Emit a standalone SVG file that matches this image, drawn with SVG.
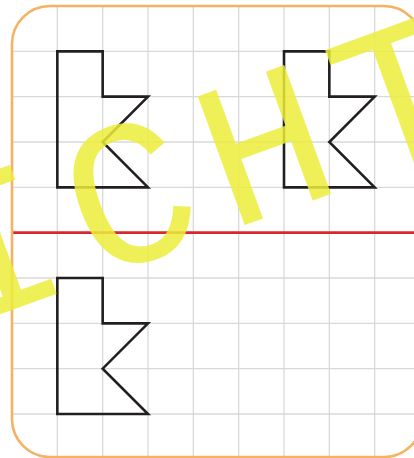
<svg xmlns="http://www.w3.org/2000/svg" width="414" height="458" viewBox="0 0 414 458">
<style>
.grid line{stroke:#d9d9d9;stroke-width:1.3}
.shape{fill:none;stroke:#231f20;stroke-width:2.6;stroke-linejoin:miter}
.frame{fill:none;stroke:#f6b163;stroke-width:2.6}
.axis{stroke:#d7282f;stroke-width:2.6}
.wm{font-family:"Liberation Mono","DejaVu Sans Mono",monospace;font-size:208px;fill:#ecec3a;fill-opacity:0.85}
</style>
<defs>
<clipPath id="clip"><rect x="12" y="6" width="410" height="451" rx="38"/></clipPath>
</defs>
<rect x="0" y="0" width="414" height="458" fill="#ffffff"/>
<g clip-path="url(#clip)">
<g class="grid">
<line x1="57.33" y1="0" x2="57.33" y2="458"/>
<line x1="102.67" y1="0" x2="102.67" y2="458"/>
<line x1="148" y1="0" x2="148" y2="458"/>
<line x1="193.33" y1="0" x2="193.33" y2="458"/>
<line x1="238.67" y1="0" x2="238.67" y2="458"/>
<line x1="284" y1="0" x2="284" y2="458"/>
<line x1="329.33" y1="0" x2="329.33" y2="458"/>
<line x1="374.67" y1="0" x2="374.67" y2="458"/>
<line x1="0" y1="51.33" x2="414" y2="51.33"/>
<line x1="0" y1="96.67" x2="414" y2="96.67"/>
<line x1="0" y1="142" x2="414" y2="142"/>
<line x1="0" y1="187.33" x2="414" y2="187.33"/>
<line x1="0" y1="278" x2="414" y2="278"/>
<line x1="0" y1="323.33" x2="414" y2="323.33"/>
<line x1="0" y1="368.67" x2="414" y2="368.67"/>
<line x1="0" y1="414" x2="414" y2="414"/>
</g>
<line class="axis" x1="0" y1="232.67" x2="414" y2="232.67"/>
</g>
<rect class="frame" x="12" y="6" width="410" height="451" rx="38"/>
<g id="shape-original">
<path class="shape" d="M57.33,51.33 H102.67 V96.67 H148 L102.67,142 L148,187.33 H57.33 Z"/>
</g>
<g id="shape-shifted-right">
<path class="shape" d="M284,51.33 H329.33 V96.67 H374.67 L329.33,142 L374.67,187.33 H284 Z"/>
</g>
<g id="shape-shifted-down">
<path class="shape" d="M57.33,278 H102.67 V323.33 H148 L102.67,368.67 L148,414 H57.33 Z"/>
</g>
<g id="connectors"></g>
<text class="wm" transform="translate(288,209.5) rotate(-20)" text-anchor="middle" x="-288 -144 0 144" y="0">ICHT</text>
</svg>
